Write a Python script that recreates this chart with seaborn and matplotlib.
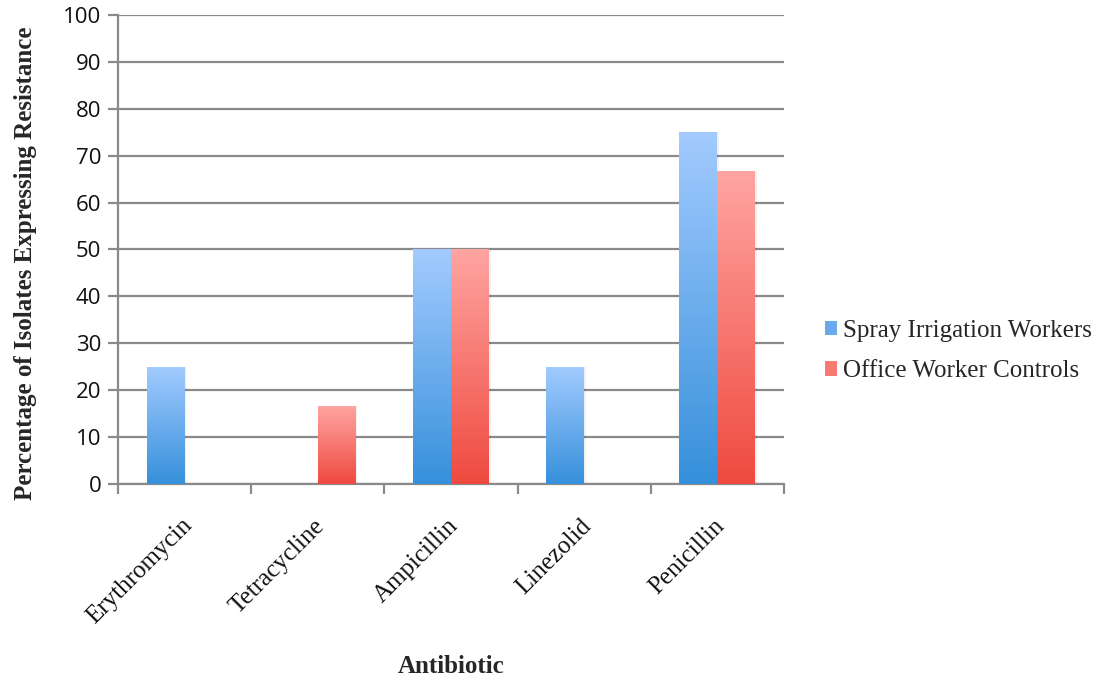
import numpy as np
import pandas as pd
import matplotlib
matplotlib.use("Agg")
import matplotlib.pyplot as plt
from matplotlib.colors import LinearSegmentedColormap
from matplotlib.patches import Patch
from matplotlib.transforms import ScaledTranslation
import seaborn as sns

# Data
antibiotics = ["Erythromycin", "Tetracycline", "Ampicillin", "Linezolid", "Penicillin"]
groups = ["Spray Irrigation Workers", "Office Worker Controls"]
spray_pct = [25.0, 0.0, 50.0, 25.0, 75.0]
office_pct = [0.0, 16.67, 50.0, 0.0, 66.67]
y_ticks = [0, 10, 20, 30, 40, 50, 60, 70, 80, 90, 100]

df = pd.DataFrame({
    "Antibiotic": antibiotics * 2,
    "Group": [groups[0]] * len(antibiotics) + [groups[1]] * len(antibiotics),
    "Percent": spray_pct + office_pct,
})

# gradient ends (top, bottom) for each group
grad = {
    groups[0]: ("#a3cbff", "#3690db"),
    groups[1]: ("#ffa5a2", "#ef4a3f"),
}
mid = {groups[0]: "#6aa9ec", groups[1]: "#f87a72"}

sns.set_theme(style="white")
plt.rcParams["font.family"] = ["Liberation Serif", "DejaVu Serif"]

fig = plt.figure(figsize=(11.07, 6.81), dpi=100)
ax = fig.add_axes([118 / 1107, 1 - 484 / 681, (784 - 118) / 1107, (484 - 15) / 681])

sns.barplot(data=df, x="Antibiotic", y="Percent", hue="Group", order=antibiotics,
            hue_order=groups, palette=mid, width=0.57, gap=0, ax=ax,
            edgecolor="none", linewidth=0, legend=False, zorder=3)

# vertical gradient fill on each bar, clipped to the bar shape
for container, g in zip(ax.containers, groups):
    cmap = LinearSegmentedColormap.from_list(g, [grad[g][1], grad[g][0]])
    for bar in container:
        h = bar.get_height()
        if h <= 0:
            continue
        x0 = bar.get_x()
        w = bar.get_width()
        # soft shadow
        ax.bar(x0 + w / 2 + 0.012, h, width=w, bottom=0, color="#000000",
               alpha=0.06, zorder=2, align="center", linewidth=0)
        img = ax.imshow(np.linspace(0, 1, 256).reshape(-1, 1), cmap=cmap,
                        origin="lower", aspect="auto",
                        extent=[x0, x0 + w, 0, h], zorder=4, interpolation="bicubic")
        img.set_clip_path(bar)
ax.set_xlim(-0.5, len(antibiotics) - 0.5)
ax.set_ylim(0, 100)

# axes styling
grid_c = "#8a8a8a"
ax.set_yticks(y_ticks)
ax.yaxis.grid(True, color=grid_c, linewidth=1.6, zorder=0)
ax.set_axisbelow(True)
for s in ["top", "right"]:
    ax.spines[s].set_visible(False)
for s in ["left", "bottom"]:
    ax.spines[s].set_color(grid_c)
    ax.spines[s].set_linewidth(1.6)

ax.tick_params(axis="y", which="major", length=7, width=1.6, color=grid_c,
               direction="out", left=True, pad=5)
ax.set_xticks(range(len(antibiotics)))
ax.set_xticks(np.arange(-0.5, len(antibiotics), 1.0), minor=True)
ax.tick_params(axis="x", which="major", length=0, pad=22)
ax.tick_params(axis="x", which="minor", length=7, width=1.6, color=grid_c,
               direction="out", bottom=True)

for lab in ax.get_yticklabels():
    lab.set_fontfamily(["Open Sans", "DejaVu Sans"])
    lab.set_fontsize(16)
    lab.set_color("#111111")

ax.set_xticklabels(antibiotics, rotation=45, ha="right", va="top",
                   rotation_mode="anchor", fontsize=18, color="#111111")
shift = ScaledTranslation(-0.04, 0.0, fig.dpi_scale_trans)
for lab in ax.get_xticklabels():
    lab.set_transform(lab.get_transform() + shift)

ax.set_xlabel("Antibiotic", fontsize=18, fontweight="bold")
ax.xaxis.set_label_coords(0.5, -0.364)
ax.set_ylabel("Percentage of Isolates Expressing Resistance", fontsize=18,
              fontweight="bold")
ax.yaxis.set_label_coords(-0.122, 0.471)

handles = [Patch(facecolor=mid[g], edgecolor="none", label=g) for g in groups]
fig.legend(handles=handles, loc="center left", bbox_to_anchor=(807 / 1107, 1 - 351 / 681),
           frameon=False, fontsize=18, handlelength=0.5, handleheight=0.5,
           handletextpad=0.25, labelspacing=0.75, borderpad=0.2)

fig.savefig("out.png", dpi=100)
